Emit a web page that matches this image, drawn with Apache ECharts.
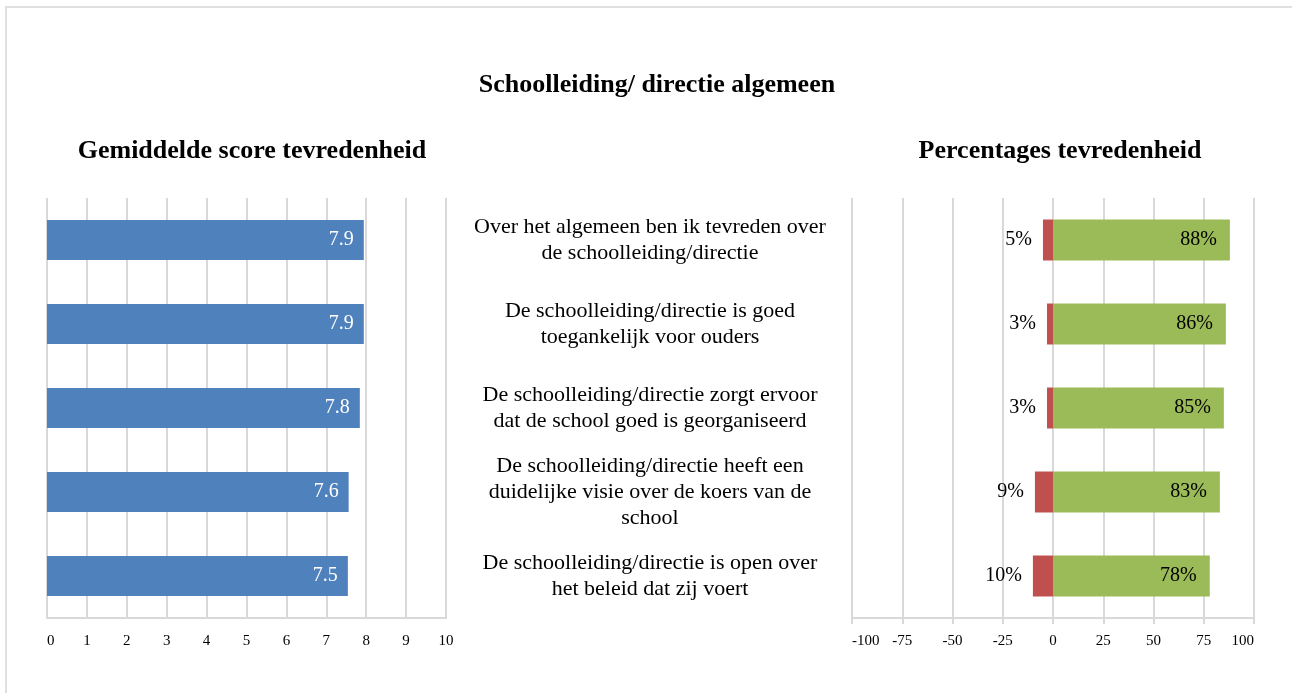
<!DOCTYPE html>
<html>
<head>
<meta charset="utf-8">
<script src="https://cdn.jsdelivr.net/npm/echarts@6/dist/echarts.min.js"></script>
<style>
  html, body { margin: 0; padding: 0; background: #fff; }
  #main { width: 1292px; height: 693px; }
</style>
</head>
<body>
<div id="main"></div>
<script>
// vragen (midden), van boven naar beneden
var questions = [
  'Over het algemeen ben ik tevreden over\nde schoolleiding/directie',
  'De schoolleiding/directie is goed\ntoegankelijk voor ouders',
  'De schoolleiding/directie zorgt ervoor\ndat de school goed is georganiseerd',
  'De schoolleiding/directie heeft een\nduidelijke visie over de koers van de\nschool',
  'De schoolleiding/directie is open over\nhet beleid dat zij voert'
]
// gemiddelde score (links)
var scores = [7.94, 7.94, 7.84, 7.56, 7.54]
// percentages ontevreden / tevreden (rechts)
var ontevreden = [5, 3, 3, 9, 10]
var tevreden = [88, 86, 85, 83, 78]

var serif = '"Liberation Serif", "Times New Roman", serif'
var gridColor = '#d9d9d9'

var myChart = echarts.init(document.getElementById('main'))

var options = {
  backgroundColor: '#fff',
  textStyle: { fontFamily: serif },
  graphic: [
    {
      type: 'rect',
      shape: { x: 6, y: 7, width: 1400, height: 800 },
      style: { fill: 'none', stroke: '#e0e0e0', lineWidth: 2 },
      silent: true
    }
  ],
  title: [
    {
      text: 'Schoolleiding/ directie algemeen',
      left: 652, top: 67, textAlign: 'center',
      textStyle: { fontFamily: serif, fontSize: 26, fontWeight: 'bold', color: '#000' }
    },
    {
      text: 'Gemiddelde score tevredenheid',
      left: 247, top: 133, textAlign: 'center',
      textStyle: { fontFamily: serif, fontSize: 26, fontWeight: 'bold', color: '#000' }
    },
    {
      text: 'Percentages tevredenheid',
      left: 1055, top: 133, textAlign: 'center',
      textStyle: { fontFamily: serif, fontSize: 26, fontWeight: 'bold', color: '#000' }
    }
  ],
  grid: [
    { left: 47, top: 198, width: 399, height: 420 },
    { left: 852, top: 198, width: 402, height: 420 }
  ],
  xAxis: [
    {
      gridIndex: 0, type: 'value', min: 0, max: 10, interval: 1,
      axisLine: { show: true, lineStyle: { color: gridColor, width: 2 } },
      axisTick: { show: false },
      splitLine: { show: true, lineStyle: { color: gridColor, width: 2 } },
      axisLabel: {
        color: '#000', fontFamily: serif, fontSize: 15, margin: 16,
        alignMinLabel: 'left'
      }
    },
    {
      gridIndex: 1, type: 'value', min: -100, max: 100, interval: 25,
      axisLine: { show: true, onZero: false, lineStyle: { color: gridColor, width: 2 } },
      axisTick: { show: true, length: 6, lineStyle: { color: gridColor, width: 2 } },
      splitLine: { show: true, lineStyle: { color: gridColor, width: 2 } },
      axisLabel: {
        color: '#000', fontFamily: serif, fontSize: 15, margin: 16,
        alignMinLabel: 'left', alignMaxLabel: 'right'
      }
    }
  ],
  yAxis: [
    {
      gridIndex: 0, type: 'category', inverse: true, data: questions,
      axisLine: { show: false }, axisTick: { show: false },
      axisLabel: { show: false }
    },
    {
      gridIndex: 1, type: 'category', inverse: true, data: questions,
      axisLine: { show: false }, axisTick: { show: false },
      axisLabel: {
        show: true, align: 'center', margin: 202,
        color: '#000', fontFamily: serif, fontSize: 22, lineHeight: 26
      }
    }
  ],
  series: [
    {
      name: 'Gemiddelde score',
      type: 'bar', xAxisIndex: 0, yAxisIndex: 0,
      data: scores, barWidth: 40,
      itemStyle: { color: '#4f81bd' },
      label: {
        show: true, position: 'insideRight', distance: 10,
        color: '#fff', fontFamily: serif, fontSize: 20,
        formatter: function (p) { return p.value.toFixed(1) }
      }
    },
    {
      name: 'Ontevreden',
      type: 'bar', xAxisIndex: 1, yAxisIndex: 1,
      data: ontevreden.map(function (v) { return -v }),
      barWidth: 41, barGap: '-100%',
      itemStyle: { color: '#c0504d' },
      label: {
        show: true, position: 'left', distance: 11,
        color: '#000', fontFamily: serif, fontSize: 20,
        formatter: function (p) { return Math.abs(p.value) + '%' }
      }
    },
    {
      name: 'Tevreden',
      type: 'bar', xAxisIndex: 1, yAxisIndex: 1,
      data: tevreden, barWidth: 41, barGap: '-100%',
      itemStyle: { color: '#9bbb59' },
      label: {
        show: true, position: 'insideRight', distance: 13,
        color: '#000', fontFamily: serif, fontSize: 20,
        formatter: function (p) { return p.value + '%' }
      }
    }
  ]
}

myChart.setOption(options)
</script>
</body>
</html>
